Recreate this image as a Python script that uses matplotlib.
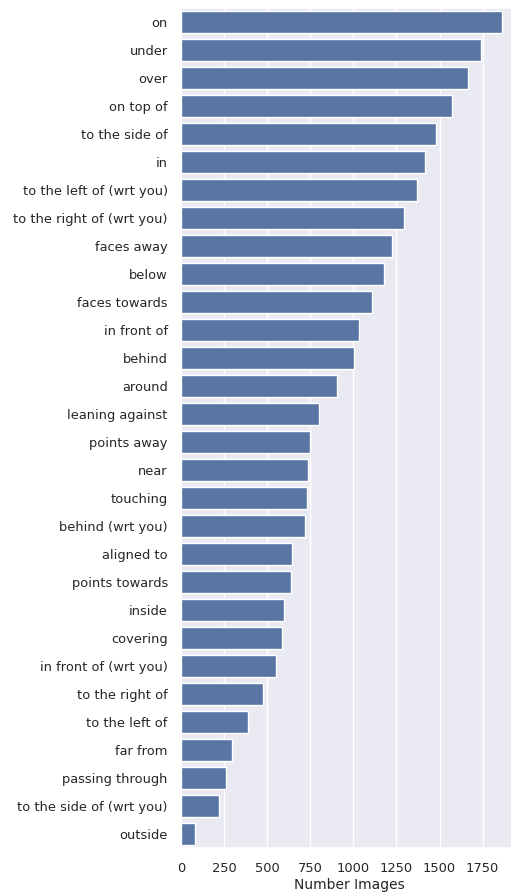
import matplotlib
matplotlib.use("Agg")
import matplotlib.pyplot as plt
import seaborn as sns
import pandas as pd

categories = ["on", "under", "over", "on top of", "to the side of", "in",
              "to the left of (wrt you)", "to the right of (wrt you)", "faces away",
              "below", "faces towards", "in front of", "behind", "around",
              "leaning against", "points away", "near", "touching", "behind (wrt you)",
              "aligned to", "points towards", "inside", "covering",
              "in front of (wrt you)", "to the right of", "to the left of", "far from",
              "passing through", "to the side of (wrt you)", "outside"]
counts = [1864, 1740, 1665, 1574, 1481, 1413, 1370, 1293, 1225, 1180, 1107, 1031,
          1002, 903, 798, 746, 734, 731, 719, 643, 640, 597, 587, 550, 473, 388,
          295, 260, 223, 83]

sns.set_theme(style="darkgrid", rc={"xtick.labelsize": 9.4, "ytick.labelsize": 9.4,
                                     "axes.labelsize": 10})
df = pd.DataFrame({"relation": categories, "count": counts})

fig = plt.figure(figsize=(5.11, 8.94), dpi=100)
ax = fig.add_axes([181/511, 46/894, 1 - 181/511 + 0.012, (848-8)/894])
sns.barplot(data=df, x="count", y="relation", color="#4C72B0", ax=ax, orient="h")
ax.set_xlim(0, 1950)
ax.set_xlabel("Number Images", labelpad=2)
ax.set_ylabel("")
ax.set_xticks([0, 250, 500, 750, 1000, 1250, 1500, 1750])
ax.tick_params(axis="x", pad=4)
fig.savefig("out.png", dpi=100)
